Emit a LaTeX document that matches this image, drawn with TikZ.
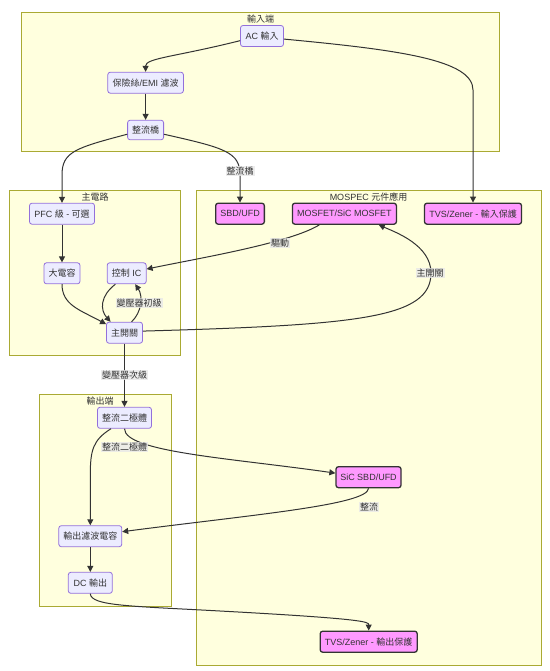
\documentclass[tikz,border=0pt]{standalone}
\usepackage{fontspec}
\setmainfont{Liberation Sans}
\newfontfamily\cjk{Noto Sans CJK TC}
\newcommand\zh[1]{{\cjk #1}}
\usetikzlibrary{arrows.meta}
\definecolor{clfill}{HTML}{FFFFDE}
\definecolor{clline}{HTML}{AAAA33}
\definecolor{ndfill}{HTML}{ECECFF}
\definecolor{ndline}{HTML}{9370DB}
\definecolor{mpfill}{HTML}{FF99FF}
\definecolor{edgec}{HTML}{333333}
\definecolor{lblbg}{HTML}{E8E8E8}
\begin{document}
\begin{tikzpicture}[x=1pt,y=-1pt,
  cluster/.style={draw=clline, fill=clfill, line width=0.8pt},
  ctitle/.style={text=edgec, font=\fontsize{9}{11}\selectfont, inner sep=0pt},
  box/.style={draw=ndline, fill=ndfill, rounded corners=2.5pt, line width=0.8pt,
    minimum height=21pt, inner xsep=2pt, inner ysep=0pt, text=edgec,
    font=\fontsize{9}{11}\selectfont},
  mbox/.style={box, draw=edgec, fill=mpfill, line width=1.3pt},
  conn/.style={draw=edgec, line width=1pt, -{Triangle[length=6pt,width=6pt]}},
  lbl/.style={fill=lblbg, fill opacity=0.8, text opacity=1, inner sep=1pt,
    text=edgec, font=\fontsize{9}{11}\selectfont}
]
\useasboundingbox (0,0) rectangle (549,671);
\fill[white] (0,0) rectangle (549,671);
% clusters
\path[cluster] (21.7,12.7) rectangle (499.5,151.7);
\path[cluster] (9.5,190.7) rectangle (180.6,355);
\path[cluster] (196,190.7) rectangle (541.5,665);
\path[cluster] (39.6,394.3) rectangle (171.5,606);
\node[ctitle] (t1) at (260.6,19) {\zh{輸入端}};
\node[ctitle] (t2) at (95,197) {\zh{主電路}};
\node[ctitle] (t3) at (368.5,197) {MOSPEC \zh{元件應用}};
\node[ctitle] (t4) at (100,401) {\zh{輸出端}};
% nodes
\node[box, minimum width=43pt] (ac) at (262,36) {AC \zh{輸入}};
\node[box, minimum width=75.6pt] (fuse) at (145.6,82.7) {\zh{保險絲}/EMI \zh{濾波}};
\node[box, minimum width=36pt, minimum height=19.5pt] (bridge) at (145.6,130) {\zh{整流橋}};
\node[box, minimum width=65pt] (pfc) at (62,213.7) {PFC \zh{級} - \zh{可選}};
\node[box, minimum width=36pt] (bigcap) at (62,273.3) {\zh{大電容}};
\node[box, minimum width=39pt] (ctrl) at (126.7,273.3) {\zh{控制} IC};
\node[box, minimum width=36pt] (main) at (124.5,332.7) {\zh{主開關}};
\node[mbox, minimum width=48.7pt] (sbd) at (240,213.7) {SBD/UFD};
\node[mbox, minimum width=104pt] (mosfet) at (344.4,213.7) {MOSFET/SiC MOSFET};
\node[mbox, minimum width=97pt] (tvsin) at (473,213.7) {TVS/Zener - \zh{輸入保護}};
\node[box, minimum width=54pt] (diode) at (124.5,417.8) {\zh{整流二極體}};
\node[mbox, minimum width=65pt] (sic) at (368.5,477.2) {SiC SBD/UFD};
\node[box, minimum width=63pt] (ocap) at (90.3,536.2) {\zh{輸出濾波電容}};
\node[box, minimum width=44pt] (dc) at (90.3,582.8) {DC \zh{輸出}};
\node[mbox, minimum width=97pt] (tvsout) at (368.7,641.7) {TVS/Zener - \zh{輸出保護}};
% connectors
\draw[conn] (ac.192) .. controls (175,57) and (145.6,58) .. (fuse.north);
\draw[conn] (fuse.south) -- (bridge.north);
\draw[conn] (bridge.193) .. controls (75,148) and (62,152) .. (62,175) -- (pfc.north);
\draw[conn] (bridge.347) .. controls (225,148) and (240,152) .. (240,175) -- (sbd.north);
\draw[conn] (ac.352) .. controls (400,50) and (473,60) .. (473,90) -- (tvsin.north);
\draw[conn] (pfc.south) -- (bigcap.north);
\draw[conn] (bigcap.south) .. controls (62,305) and (80,310) .. (main.155);
\draw[conn] (ctrl.224) .. controls (100,296) and (100,310) .. (main.142);
\draw[conn] (main.57) .. controls (142,312) and (143,296) .. (ctrl.308);
\draw[conn] (mosfet.204) .. controls (290,243) and (200,258) .. (ctrl.12);
\draw[conn] (main.5) .. controls (360,325) and (431,318) .. (431,273) .. controls (431,245) and (395,232) .. (mosfet.342);
\draw[conn] (main.south) -- (diode.north);
\draw[conn] (diode.219) .. controls (93,440) and (90.3,450) .. (90.3,475) -- (ocap.north);
\draw[conn] (ocap.south) -- (dc.north);
\draw[conn] (diode.south) .. controls (124.5,452) and (230,458) .. (sic.173);
\draw[conn] (sic.south) .. controls (368,505) and (250,515) .. (ocap.8);
\draw[conn] (dc.south) .. controls (91,606) and (130,606) .. (220,611) .. controls (368,619) and (368.7,622) .. (tvsout.north);
% labels
\node[lbl] (l1) at (240,171) {\zh{整流橋}};
\node[lbl] (l2) at (280,243.3) {\zh{驅動}};
\node[lbl] (l3) at (430,272.7) {\zh{主開關}};
\node[lbl] (l4) at (139,303.3) {\zh{變壓器初級}};
\node[lbl] (l5) at (124.5,375) {\zh{變壓器次級}};
\node[lbl] (l6) at (124.5,446.7) {\zh{整流二極體}};
\node[lbl] (l7) at (369,506.7) {\zh{整流}};
\end{tikzpicture}
\end{document}
